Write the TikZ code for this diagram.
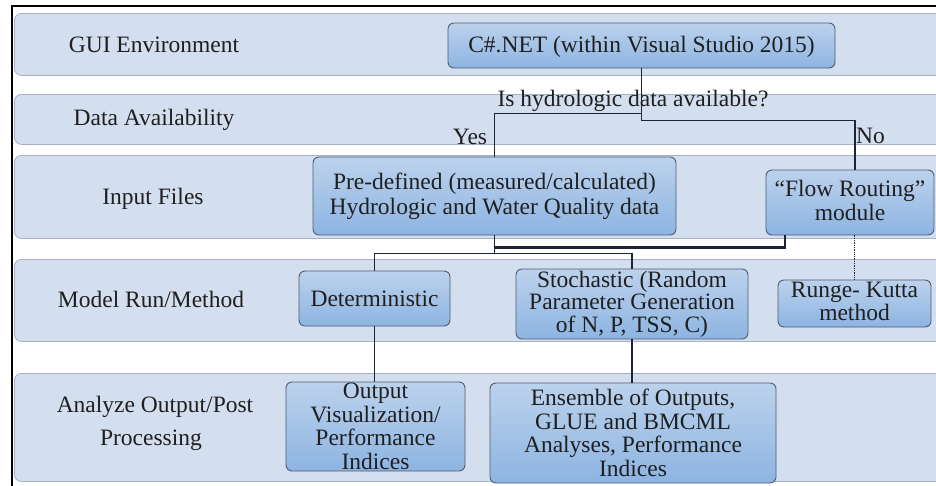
\documentclass[tikz,border=0pt]{standalone}
\usepackage{fontspec}
\setmainfont{Liberation Serif}
\usetikzlibrary{calc}
\definecolor{bandfill}{HTML}{D3DEEF}
\definecolor{banddraw}{HTML}{A7B1C1}
\definecolor{boxtop}{HTML}{BCD2EC}
\definecolor{boxbot}{HTML}{8DB4E2}
\definecolor{boxdraw}{HTML}{4E5D70}
\definecolor{wirecol}{HTML}{1C2536}
\begin{document}
\begin{tikzpicture}[x=1pt,y=-1pt,
  band/.style={draw=banddraw, fill=bandfill, line width=0.8pt, rounded corners=7pt,
    anchor=north west, inner sep=0pt},
  box/.style={draw=boxdraw, line width=0.9pt, rounded corners=6pt,
    top color=boxtop, bottom color=boxbot, inner sep=0pt},
  txt/.style={font=\rmfamily\fontsize{23.5}{23.5}\selectfont, align=center, inner sep=0pt,
    text=black!88},
  lbl/.style={txt, anchor=base},
  wire/.style={draw=wirecol, line width=1.4pt},
  heavywire/.style={draw=wirecol, line width=2.2pt},
  dotwire/.style={draw=wirecol, line width=1.3pt, densely dotted},
]
\useasboundingbox (0,0) rectangle (936,485);
\clip (0,0) rectangle (936,485);

% horizontal swim lanes
\node[band, minimum width=940pt, minimum height=62pt]  (b1) at (14,13)  {};
\node[band, minimum width=940pt, minimum height=50pt]  (b2) at (14,94)  {};
\node[band, minimum width=940pt, minimum height=83pt]  (b3) at (14,155) {};
\node[band, minimum width=940pt, minimum height=82pt]  (b4) at (14,259) {};
\node[band, minimum width=940pt, minimum height=108pt] (b5) at (14,373) {};

% lane titles
\node[lbl] (t1) at (154,52)  {GUI Environment};
\node[lbl] (t2) at (154,125) {Data Availability};
\node[lbl] (t3) at (153,204) {Input Files};
\node[lbl] (t4) at (151,307) {Model Run/Method};
\node[lbl] (t5a) at (155,412) {Analyze Output/Post};
\node[lbl] (t5b) at (151,445) {Processing};

% outer frame (top and left edges)
\draw[line width=2.5pt] (12,490) -- (12,6) -- (940,6);

% process boxes
\node[box, minimum width=387pt, minimum height=45pt] (cs)  at (641.5,45.5) {};
\node[box, minimum width=363pt, minimum height=78pt] (pd)  at (494.5,196)  {};
\node[box, minimum width=168pt, minimum height=65pt] (fr)  at (850,202.5)  {};
\node[box, minimum width=151pt, minimum height=55pt] (det) at (374.5,298.5) {};
\node[box, minimum width=232pt, minimum height=70pt] (sto) at (632,304)    {};
\node[box, minimum width=153pt, minimum height=47pt] (rk)  at (854.5,303.5) {};
\node[box, minimum width=179pt, minimum height=89pt] (out) at (375.5,426.5) {};
\node[box, minimum width=286pt, minimum height=100pt] (ens) at (633,433)   {};

% box captions
\node[txt] at ($(cs)+(0,1.5)$) {C\#.NET (within Visual Studio 2015)};
\node[txt, font=\rmfamily\fontsize{23.5}{25}\selectfont] at (pd)
  {Pre-defined (measured/calculated)\\Hydrologic and Water Quality data};
\node[txt] at ($(fr)+(0,-2)$) {“Flow Routing”\\module};
\node[txt] at (det) {Deterministic};
\node[txt, font=\rmfamily\fontsize{23.5}{22.5}\selectfont] at (sto)
  {Stochastic (Random\\Parameter Generation\\of N, P, TSS, C)};
\node[txt] at ($(rk)+(0,-2)$) {Runge- Kutta\\method};
\node[txt] at (out) {Output\\Visualization/\\Performance\\Indices};
\node[txt] at (ens) {Ensemble of Outputs,\\GLUE and BMCML\\Analyses, Performance\\Indices};

% decision connectors
\draw[wire] (cs.south) -- ++(0,52) -| ($(fr.north)+(5,0)$);
\draw[wire] ($(cs.south)+(0,45)$) -| (pd.north);
\node[lbl] (q)   at (633,106) {Is hydrologic data available?};
\node[lbl] (yes) at (470,144) {Yes};
\node[lbl] (no)  at (870.5,143) {No};

% merge into model runs
\draw[heavywire] ($(fr.south)+(-65,0)$) |- ($(pd.south)+(0,12)$);
\draw[wire] (pd.south) -- ++(0,18);
\draw[wire] (det.north) |- ($(pd.south)+(0,18)$) -| (sto.north);
\draw[dotwire] (rk.north |- fr.south) -- (rk.north);

% to outputs
\draw[wire] (det.south) -- (det.south |- out.north);
\draw[wire] (sto.south) -- (sto.south |- ens.north);
\end{tikzpicture}
\end{document}
